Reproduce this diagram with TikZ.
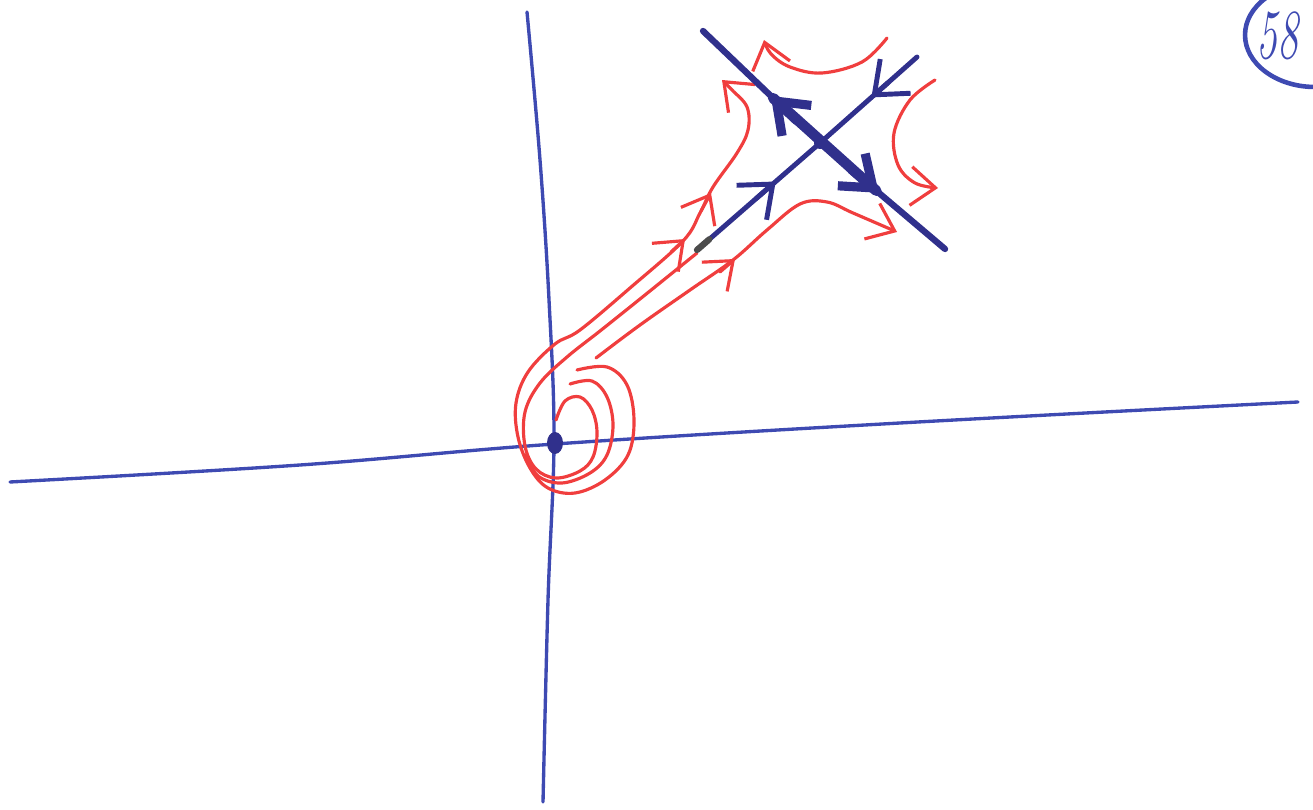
\documentclass[tikz,border=0pt]{standalone}
\usetikzlibrary{arrows.meta,calc}
\definecolor{axisblue}{RGB}{62,74,178}
\definecolor{navy}{RGB}{48,48,140}
\definecolor{penred}{RGB}{240,62,62}
\begin{document}
\begin{tikzpicture}[x=0.01cm,y=-0.01cm,line cap=round,line join=round,
  axisline/.style={axisblue,line width=0.95pt},
  traj/.style={penred,line width=0.9pt},
  manif/.style={navy,line width=1.4pt},
  redtip/.style={penred,line width=0.9pt,-{Straight Barb[length=7pt,width=11pt]}},
  bluetip/.style={navy,line width=1.4pt,-{Straight Barb[length=8pt,width=13pt]}},
  bigtip/.style={navy,line width=2.6pt,-{Straight Barb[length=8pt,width=12pt]}}]
\useasboundingbox (0,0) rectangle (1313,810);
\clip (0,0) rectangle (1313,810);
% axes
\draw[axisline] plot[smooth,tension=0.6] coordinates {(10,482) (300,465) (555,444) (900,423) (1298,402)};
\draw[axisline] plot[smooth,tension=0.6] coordinates {(527,12) (540,160) (549,300) (554,440) (548,600) (543,802)};
% spiral source
\coordinate (O) at (555,443);
% inner trajectory -> middle line (ends at stable manifold)
\draw[traj] plot[smooth,tension=0.6] coordinates {
 (556,420) (565,401) (580,397) (592,410) (597,432) (593,457) (580,471) (556,478) (536,469) (525,446)
 (525,412) (540,383) (567,357) (600,331) (640,299) (697,253)};
% second loop
\draw[traj] plot[smooth,tension=0.6] coordinates {
 (570,384) (592,381) (607,397) (613,425) (607,455) (590,473) (562,483) (538,476) (526,455)};
% outer loop -> upper trajectory
\draw[traj,-{Straight Barb[length=7pt,width=11pt]}] plot[smooth,tension=0.6] coordinates {
 (577,370) (607,367) (627,385) (634,420) (628,455) (605,480) (575,493) (548,488) (530,468) (518,437)
 (516,403) (528,372) (555,344) (580,330) (630,288) (683,241) (700,213) (713,187) (737,153) (748,130)
 (747,107) (732,90) (722,80)};
% lower trajectory
\draw[traj,-{Straight Barb[length=7pt,width=11pt]}] plot[smooth,tension=0.6] coordinates {
 (596,358) (640,325) (690,290) (733,260) (767,230) (800,204) (827,202) (853,213) (897,232)};
\fill[navy] (O) ellipse [x radius=8, y radius=11];
% mid-line arrowheads on red curves
\draw[redtip] (671,252) -- (685,239);
\draw[redtip] (701,211) -- (711,193);
\draw[redtip] (720,272) -- (735,259);
% top hyperbola
\draw[traj,-{Straight Barb[length=7pt,width=11pt]}] plot[smooth,tension=0.6] coordinates {
 (887,38) (862,62) (822,73) (790,67) (771,54) (764,40)};
% right hyperbola
\draw[traj,-{Straight Barb[length=7pt,width=11pt]}] plot[smooth,tension=0.6] coordinates {
 (935,80) (910,100) (894,133) (898,165) (915,183) (938,188)};
% saddle
\coordinate (C) at (820,143);
\coordinate (SA) at (917,57);
\coordinate (SB) at (697,250);
\coordinate (UA) at (703,31);
\coordinate (UB) at (945,249);
\draw[manif] (SA) -- (C) -- (SB);
\draw[manif,line width=1.8pt] (UA) -- (C) -- (UB);
\draw[manif,line width=3pt] ($(C)!0.40!(UA)$) -- ($(C)!0.45!(UB)$);
\fill[navy] (C) circle [radius=6];
\draw[bluetip] ($(SA)!0.30!(C)$) -- ($(SA)!0.47!(C)$);
\draw[bluetip] ($(SB)!0.48!(C)$) -- ($(SB)!0.64!(C)$);
\draw[bigtip] ($(C)!0.20!(UA)$) -- ($(C)!0.42!(UA)$);
\draw[bigtip] ($(C)!0.25!(UB)$) -- ($(C)!0.47!(UB)$);
\draw[black!70,line width=1.8pt] (SB) -- ($(SB)!0.10!(C)$);
% page number
\draw[axisblue,line width=1.3pt] (1315,35) ellipse [x radius=70, y radius=52];
\node[text=axisblue,font=\fontsize{20}{20}\selectfont\itshape,anchor=east,inner sep=1pt] (pg) at (1303,36) {\scalebox{0.6}[1]{58}};
\end{tikzpicture}
\end{document}
